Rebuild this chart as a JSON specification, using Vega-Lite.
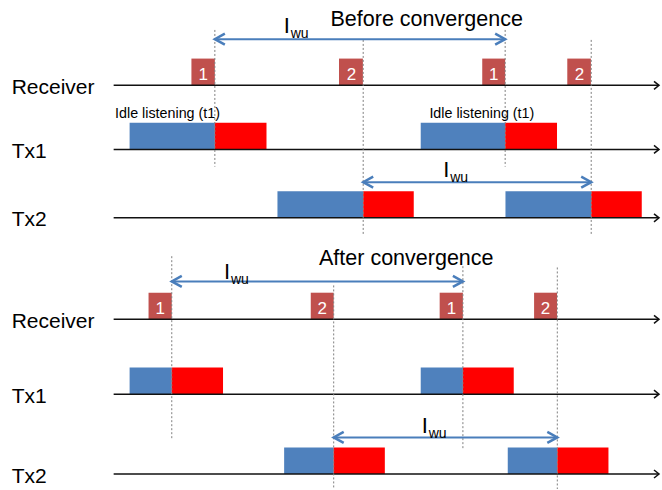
{
  "$schema": "https://vega.github.io/schema/vega-lite/v6.json",
  "width": 662,
  "height": 490,
  "autosize": {"type": "fit", "contains": "padding"},
  "padding": 0,
  "background": "white",
  "config": {"view": {"stroke": null}, "font": "Liberation Sans"},
  "datasets": {
    "blocks": [
      {"x": 192, "x2": 215.5, "y": 58.7, "y2": 85.5, "kind": "slot", "label": "1"},
      {"x": 340, "x2": 364, "y": 58.7, "y2": 85.5, "kind": "slot", "label": "2"},
      {"x": 483.7, "x2": 506.7, "y": 58.7, "y2": 85.5, "kind": "slot", "label": "1"},
      {"x": 569, "x2": 592.7, "y": 58.7, "y2": 85.5, "kind": "slot", "label": "2"},
      {"x": 130, "x2": 215.5, "y": 123, "y2": 149.7, "kind": "idle", "label": ""},
      {"x": 215.5, "x2": 267.3, "y": 123, "y2": 149.7, "kind": "tx", "label": ""},
      {"x": 422, "x2": 506.7, "y": 123, "y2": 149.7, "kind": "idle", "label": ""},
      {"x": 506.7, "x2": 558.7, "y": 123, "y2": 149.7, "kind": "tx", "label": ""},
      {"x": 278.3, "x2": 364.3, "y": 191.7, "y2": 218.3, "kind": "idle", "label": ""},
      {"x": 364.3, "x2": 415, "y": 191.7, "y2": 218.3, "kind": "tx", "label": ""},
      {"x": 507, "x2": 593, "y": 191.7, "y2": 218.3, "kind": "idle", "label": ""},
      {"x": 593, "x2": 643.7, "y": 191.7, "y2": 218.3, "kind": "tx", "label": ""},
      {"x": 149, "x2": 172.3, "y": 293.3, "y2": 320, "kind": "slot", "label": "1"},
      {"x": 311.7, "x2": 334.7, "y": 293.3, "y2": 320, "kind": "slot", "label": "2"},
      {"x": 441, "x2": 464.3, "y": 293.3, "y2": 320, "kind": "slot", "label": "1"},
      {"x": 535.7, "x2": 558.7, "y": 293.3, "y2": 320, "kind": "slot", "label": "2"},
      {"x": 130, "x2": 172.3, "y": 368.3, "y2": 395, "kind": "idle", "label": ""},
      {"x": 172.3, "x2": 223.7, "y": 368.3, "y2": 395, "kind": "tx", "label": ""},
      {"x": 422, "x2": 464.3, "y": 368.3, "y2": 395, "kind": "idle", "label": ""},
      {"x": 464.3, "x2": 515.3, "y": 368.3, "y2": 395, "kind": "tx", "label": ""},
      {"x": 285, "x2": 334.7, "y": 448.3, "y2": 475, "kind": "idle", "label": ""},
      {"x": 334.7, "x2": 386, "y": 448.3, "y2": 475, "kind": "tx", "label": ""},
      {"x": 509.3, "x2": 559, "y": 448.3, "y2": 475, "kind": "idle", "label": ""},
      {"x": 559, "x2": 610.3, "y": 448.3, "y2": 475, "kind": "tx", "label": ""}
    ],
    "timelines": [
      {"x0": 11.7, "x1": 114, "x2": 661, "y": 85.5, "name": "Receiver"},
      {"x0": 11.7, "x1": 114, "x2": 661, "y": 149.7, "name": "Tx1"},
      {"x0": 11.7, "x1": 114, "x2": 661, "y": 218.3, "name": "Tx2"},
      {"x0": 11.7, "x1": 114, "x2": 661, "y": 320, "name": "Receiver"},
      {"x0": 11.7, "x1": 114, "x2": 661, "y": 395, "name": "Tx1"},
      {"x0": 11.7, "x1": 114, "x2": 661, "y": 475, "name": "Tx2"}
    ],
    "markers": [
      {"x": 215.5, "y1": 30, "y2": 167},
      {"x": 364.3, "y1": 40, "y2": 235},
      {"x": 506.7, "y1": 30, "y2": 167},
      {"x": 593, "y1": 40, "y2": 235},
      {"x": 172.3, "y1": 256.7, "y2": 440},
      {"x": 334.7, "y1": 286, "y2": 490},
      {"x": 464.3, "y1": 266.7, "y2": 450},
      {"x": 559, "y1": 268, "y2": 490}
    ],
    "intervals": [
      {"x1": 215.5, "x2": 506.7, "y": 39.3},
      {"x1": 364.3, "x2": 593, "y": 182.5},
      {"x1": 172.3, "x2": 464.3, "y": 282},
      {"x1": 334.7, "x2": 559, "y": 438.3}
    ],
    "intervalLabels": [
      {"x": 284.6, "y": 33.3, "main": "I", "sub": "wu"},
      {"x": 444.6, "y": 177.5, "main": "I", "sub": "wu"},
      {"x": 224.6, "y": 279.3, "main": "I", "sub": "wu"},
      {"x": 423, "y": 434.3, "main": "I", "sub": "wu"}
    ],
    "notes": [
      {"x": 331.5, "y": 25.7, "text": "Before convergence", "size": "big"},
      {"x": 320, "y": 265.5, "text": "After convergence", "size": "big"},
      {"x": 115.4, "y": 118, "text": "Idle listening (t1)", "size": "small"},
      {"x": 430.7, "y": 118, "text": "Idle listening (t1)", "size": "small"}
    ]
  },
  "layer": [
    {
      "data": {"name": "blocks"},
      "mark": {"type": "rect", "opacity": 1},
      "encoding": {
        "x": {"field": "x", "type": "quantitative", "scale": {"domain": [0, 662], "nice": false, "zero": false}, "axis": null},
        "x2": {"field": "x2"},
        "y": {"field": "y", "type": "quantitative", "scale": {"domain": [0, 490], "nice": false, "zero": false, "reverse": true}, "axis": null},
        "y2": {"field": "y2"},
        "color": {"field": "kind", "type": "nominal", "scale": {"domain": ["idle", "tx", "slot"], "range": ["#4f81bd", "#ff0000", "#c0504d"]}, "legend": null}
      }
    },
    {
      "data": {"name": "timelines"},
      "mark": {"type": "rule", "color": "#111111", "strokeWidth": 1.5},
      "encoding": {
        "x": {"field": "x1", "type": "quantitative"},
        "x2": {"field": "x2"},
        "y": {"field": "y", "type": "quantitative"}
      }
    },
    {
      "data": {"name": "timelines"},
      "mark": {"type": "point", "shape": "M -1 -0.8 L 0 0 L -1 0.8", "filled": false, "size": 100, "strokeWidth": 1.5, "color": "#111111", "opacity": 1},
      "encoding": {
        "x": {"field": "x2", "type": "quantitative"},
        "y": {"field": "y", "type": "quantitative"}
      }
    },
    {
      "data": {"name": "timelines"},
      "mark": {"type": "text", "align": "left", "baseline": "alphabetic", "dy": 8.5, "fontSize": 21, "color": "#000000"},
      "encoding": {
        "x": {"field": "x0", "type": "quantitative"},
        "y": {"field": "y", "type": "quantitative"},
        "text": {"field": "name"}
      }
    },
    {
      "data": {"name": "markers"},
      "mark": {"type": "rule", "color": "#7f7f7f", "strokeWidth": 1, "strokeDash": [2, 2]},
      "encoding": {
        "x": {"field": "x", "type": "quantitative"},
        "y": {"field": "y1", "type": "quantitative"},
        "y2": {"field": "y2"}
      }
    },
    {
      "data": {"name": "intervals"},
      "mark": {"type": "rule", "color": "#4a7ebb", "strokeWidth": 2},
      "encoding": {
        "x": {"field": "x1", "type": "quantitative"},
        "x2": {"field": "x2"},
        "y": {"field": "y", "type": "quantitative"}
      }
    },
    {
      "data": {"name": "intervals"},
      "mark": {"type": "point", "shape": "M 1 -0.55 L 0 0 L 1 0.55", "filled": false, "size": 400, "strokeWidth": 2.5, "color": "#4a7ebb", "opacity": 1},
      "encoding": {
        "x": {"field": "x1", "type": "quantitative"},
        "y": {"field": "y", "type": "quantitative"}
      }
    },
    {
      "data": {"name": "intervals"},
      "mark": {"type": "point", "shape": "M -1 -0.55 L 0 0 L -1 0.55", "filled": false, "size": 400, "strokeWidth": 2.5, "color": "#4a7ebb", "opacity": 1},
      "encoding": {
        "x": {"field": "x2", "type": "quantitative"},
        "y": {"field": "y", "type": "quantitative"}
      }
    },
    {
      "data": {"name": "intervalLabels"},
      "mark": {"type": "text", "align": "left", "baseline": "alphabetic", "fontSize": 22, "color": "#000000"},
      "encoding": {
        "x": {"field": "x", "type": "quantitative"},
        "y": {"field": "y", "type": "quantitative"},
        "text": {"field": "main"}
      }
    },
    {
      "data": {"name": "intervalLabels"},
      "mark": {"type": "text", "align": "left", "baseline": "alphabetic", "dx": 7, "dy": 5, "fontSize": 14, "color": "#000000"},
      "encoding": {
        "x": {"field": "x", "type": "quantitative"},
        "y": {"field": "y", "type": "quantitative"},
        "text": {"field": "sub"}
      }
    },
    {
      "data": {"name": "blocks"},
      "transform": [{"filter": "datum.kind == 'slot'"}],
      "mark": {"type": "text", "align": "center", "baseline": "alphabetic", "dx": -11.5, "dy": -5, "fontSize": 17, "color": "#ffffff"},
      "encoding": {
        "x": {"field": "x2", "type": "quantitative"},
        "y": {"field": "y2", "type": "quantitative"},
        "text": {"field": "label"}
      }
    },
    {
      "data": {"name": "notes"},
      "mark": {"type": "text", "align": "left", "baseline": "alphabetic", "color": "#000000"},
      "encoding": {
        "x": {"field": "x", "type": "quantitative"},
        "y": {"field": "y", "type": "quantitative"},
        "text": {"field": "text"},
        "size": {"field": "size", "type": "nominal", "scale": {"domain": ["big", "small"], "range": [21.5, 14.3]}, "legend": null}
      }
    }
  ]
}
